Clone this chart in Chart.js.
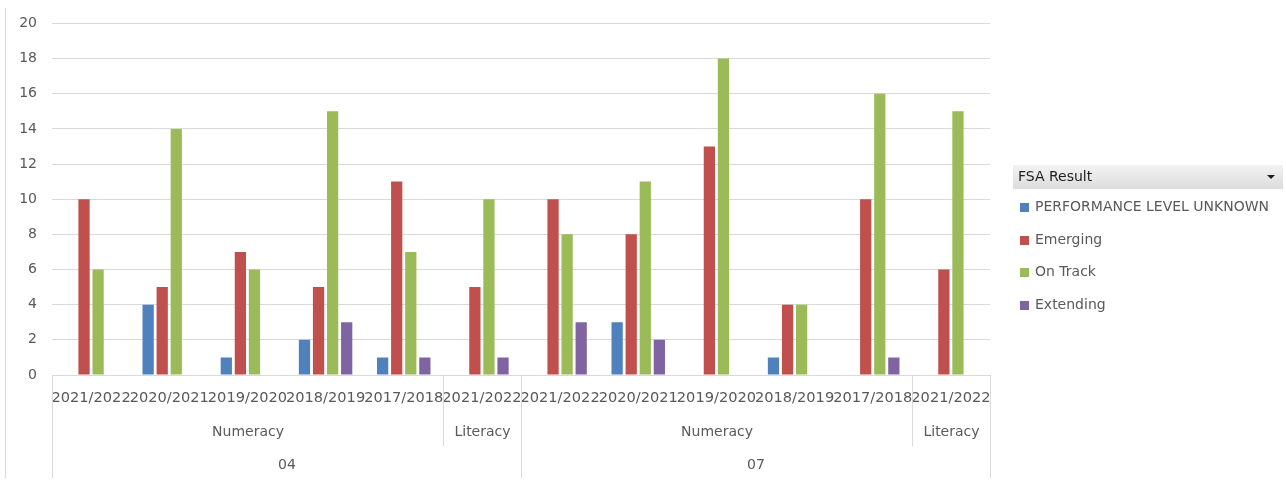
<!DOCTYPE html>
<html>
<head>
<meta charset="utf-8">
<script src="https://cdn.jsdelivr.net/npm/chart.js@4.4.1/dist/chart.umd.min.js"></script>
<style>
  html, body { margin: 0; padding: 0; background: #fff; }
  #wrap { width: 1286px; height: 485px; }
</style>
</head>
<body>
<div id="wrap"><canvas id="fsaChart" width="1286" height="485"></canvas></div>
<script>
// school year per column, with the subject and grade each column belongs to
const years = ['2021/2022', '2020/2021', '2019/2020', '2018/2019', '2017/2018', '2021/2022',
               '2021/2022', '2020/2021', '2019/2020', '2018/2019', '2017/2018', '2021/2022'];
const subjects = ['Numeracy', 'Numeracy', 'Numeracy', 'Numeracy', 'Numeracy', 'Literacy',
                  'Numeracy', 'Numeracy', 'Numeracy', 'Numeracy', 'Numeracy', 'Literacy'];
const grades = ['04', '04', '04', '04', '04', '04', '07', '07', '07', '07', '07', '07'];

// student counts per result level
const unknownCounts   = [null, 4, 1, 2, 1, null, null, 3, null, 1, null, null];
const emergingCounts  = [10, 5, 7, 5, 11, 5, 10, 8, 13, 4, 10, 6];
const onTrackCounts   = [6, 14, 6, 15, 7, 10, 8, 11, 18, 4, 16, 15];
const extendingCounts = [null, null, null, 3, 1, 1, 3, 2, null, null, 1, null];

const yMax = 20;
const yStep = 2;

const FONT = "'DejaVu Sans', sans-serif";
const TEXT = '#595959';
const LINE = '#d9d9d9';

// merge runs of equal keys into {label, start, end}
function spans(keys, labels) {
    const out = [];
    keys.forEach(function(k, i) {
        const last = out[out.length - 1];
        if (last && last.key === k) last.end = i;
        else out.push({ key: k, label: labels[i], start: i, end: i });
    });
    return out;
}

// second and third rows of the category axis (subject, grade)
const groupAxis = {
    id: 'groupAxis',
    beforeDraw(chart) {
        const ctx = chart.ctx;
        ctx.save();
        ctx.strokeStyle = LINE;
        ctx.lineWidth = 1;
        ctx.beginPath();
        ctx.moveTo(5.5, 8);
        ctx.lineTo(5.5, 478);
        ctx.stroke();
        ctx.restore();
    },
    afterDraw(chart) {
        const ctx = chart.ctx;
        const area = chart.chartArea;
        const n = years.length;
        const edge = function(i) {
            return Math.round(area.left + (area.right - area.left) * i / n) + 0.5;
        };
        const rows = [
            { groups: spans(grades.map(function(g, i) { return g + '|' + subjects[i]; }), subjects), bottom: 446, textY: 432 },
            { groups: spans(grades, grades), bottom: 478, textY: 465 }
        ];
        ctx.save();
        ctx.strokeStyle = LINE;
        ctx.lineWidth = 1;
        ctx.fillStyle = TEXT;
        ctx.font = '14px ' + FONT;
        ctx.textAlign = 'center';
        ctx.textBaseline = 'middle';
        rows.forEach(function(row) {
            row.groups.forEach(function(g) {
                const x0 = edge(g.start);
                const x1 = edge(g.end + 1);
                ctx.beginPath();
                ctx.moveTo(x0, area.bottom);
                ctx.lineTo(x0, row.bottom);
                ctx.moveTo(x1, area.bottom);
                ctx.lineTo(x1, row.bottom);
                ctx.stroke();
                ctx.fillText(g.label, (x0 + x1) / 2, row.textY);
            });
        });
        ctx.restore();
    }
};

// pivot-style legend with a field header
const fieldLegend = {
    id: 'fieldLegend',
    afterDraw(chart) {
        const ctx = chart.ctx;
        const bx = 1013, by = 165, bw = 270, bh = 24;
        ctx.save();
        const grad = ctx.createLinearGradient(0, by, 0, by + bh);
        grad.addColorStop(0, '#f3f3f3');
        grad.addColorStop(1, '#dcdcdc');
        ctx.fillStyle = grad;
        ctx.fillRect(bx, by, bw, bh);
        ctx.fillStyle = '#1f1f1f';
        ctx.font = '14px ' + FONT;
        ctx.textAlign = 'left';
        ctx.textBaseline = 'middle';
        ctx.fillText('FSA Result', bx + 5, by + bh / 2);
        ctx.beginPath();
        ctx.moveTo(bx + bw - 16, by + 10);
        ctx.lineTo(bx + bw - 8, by + 10);
        ctx.lineTo(bx + bw - 12, by + 14);
        ctx.closePath();
        ctx.fill();

        const itemY = [207, 240, 272, 305];
        chart.data.datasets.forEach(function(ds, i) {
            ctx.fillStyle = ds.backgroundColor;
            ctx.fillRect(1020, itemY[i] - 4, 9, 9);
            ctx.fillStyle = TEXT;
            ctx.fillText(ds.label, 1035, itemY[i]);
        });
        ctx.restore();
    }
};

const barStyle = { categoryPercentage: 0.72, barPercentage: 0.8 };

new Chart(document.getElementById('fsaChart').getContext('2d'), {
    type: 'bar',
    data: {
        labels: years,
        datasets: [
            Object.assign({ label: 'PERFORMANCE LEVEL UNKNOWN', data: unknownCounts, backgroundColor: '#4f81bd' }, barStyle),
            Object.assign({ label: 'Emerging', data: emergingCounts, backgroundColor: '#c0504d' }, barStyle),
            Object.assign({ label: 'On Track', data: onTrackCounts, backgroundColor: '#9bbb59' }, barStyle),
            Object.assign({ label: 'Extending', data: extendingCounts, backgroundColor: '#8064a2' }, barStyle)
        ]
    },
    options: {
        responsive: false,
        devicePixelRatio: 1,
        animation: false,
        layout: { padding: { top: 20, right: 296, bottom: 0, left: 0 } },
        plugins: {
            legend: { display: false },
            tooltip: { enabled: false }
        },
        scales: {
            x: {
                afterFit: function(scale) { scale.height = 110; },
                grid: { display: false, drawTicks: false },
                border: { display: true, color: LINE },
                ticks: {
                    color: TEXT,
                    font: { family: FONT, size: 14.6 },
                    padding: 14,
                    maxRotation: 0,
                    autoSkip: false
                }
            },
            y: {
                min: 0,
                max: yMax,
                afterFit: function(scale) { scale.width = 52; },
                grid: { color: LINE, drawTicks: false },
                border: { display: false },
                ticks: {
                    stepSize: yStep,
                    color: TEXT,
                    font: { family: FONT, size: 14 },
                    padding: 15
                }
            }
        }
    },
    plugins: [groupAxis, fieldLegend]
});
</script>
</body>
</html>
